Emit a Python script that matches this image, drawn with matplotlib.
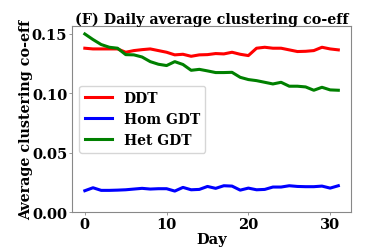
import matplotlib
matplotlib.use("Agg")
import matplotlib.pyplot as plt
import numpy as np

days = np.arange(32)

ddt = [0.1380, 0.1374, 0.1374, 0.1374, 0.1374, 0.1346, 0.1360, 0.1368,
       0.1374, 0.1360, 0.1346, 0.1324, 0.1329, 0.1312, 0.1324, 0.1326,
       0.1335, 0.1332, 0.1346, 0.1329, 0.1318, 0.1380, 0.1388, 0.1380,
       0.1380, 0.1366, 0.1352, 0.1354, 0.1360, 0.1388, 0.1374, 0.1366]

hom_gdt = [0.0180, 0.0205, 0.0183, 0.0183, 0.0185, 0.0188, 0.0194, 0.0200,
           0.0194, 0.0197, 0.0197, 0.0177, 0.0208, 0.0188, 0.0191, 0.0216,
           0.0200, 0.0222, 0.0219, 0.0185, 0.0202, 0.0188, 0.0191, 0.0211,
           0.0211, 0.0222, 0.0216, 0.0214, 0.0214, 0.0219, 0.0202, 0.0222]

het_gdt = [0.1500, 0.1453, 0.1411, 0.1388, 0.1380, 0.1326, 0.1324, 0.1306,
           0.1267, 0.1245, 0.1234, 0.1267, 0.1243, 0.1194, 0.1202, 0.1189,
           0.1175, 0.1175, 0.1177, 0.1135, 0.1116, 0.1107, 0.1093, 0.1079,
           0.1093, 0.1060, 0.1060, 0.1054, 0.1026, 0.1051, 0.1029, 0.1026]

plt.rcParams["font.family"] = "DejaVu Serif"
plt.rcParams["font.weight"] = "bold"

fig, ax = plt.subplots(figsize=(3.9, 2.51), dpi=100)
fig.subplots_adjust(left=0.185, right=0.9, top=0.892, bottom=0.151)

ax.plot(days, ddt, color="red", lw=2.2, label="DDT")
ax.plot(days, hom_gdt, color="blue", lw=2.2, label="Hom GDT")
ax.plot(days, het_gdt, color="green", lw=2.2, label="Het GDT")

ax.set_ylim(bottom=0)
ax.set_yticks([0.0, 0.05, 0.10, 0.15])
ax.set_xticks([0, 10, 20, 30])
ax.tick_params(labelsize=10.5, length=2, width=0.6, color="#888888", pad=1.5)
for lab in ax.get_xticklabels() + ax.get_yticklabels():
    lab.set_fontweight("bold")

for sp in ax.spines.values():
    sp.set_color("#888888")

ax.set_title("(F) Daily average clustering co-eff", fontsize=10.3, fontweight="bold", pad=2)
ax.set_xlabel("Day", fontsize=10.5, fontweight="bold", labelpad=1)
ax.set_ylabel("Average clustering co-eff", fontsize=10.3, fontweight="bold", labelpad=-1)

leg = ax.legend(loc="center left", prop={"weight": "bold", "size": 10})

fig.savefig("out.png", dpi=100)
